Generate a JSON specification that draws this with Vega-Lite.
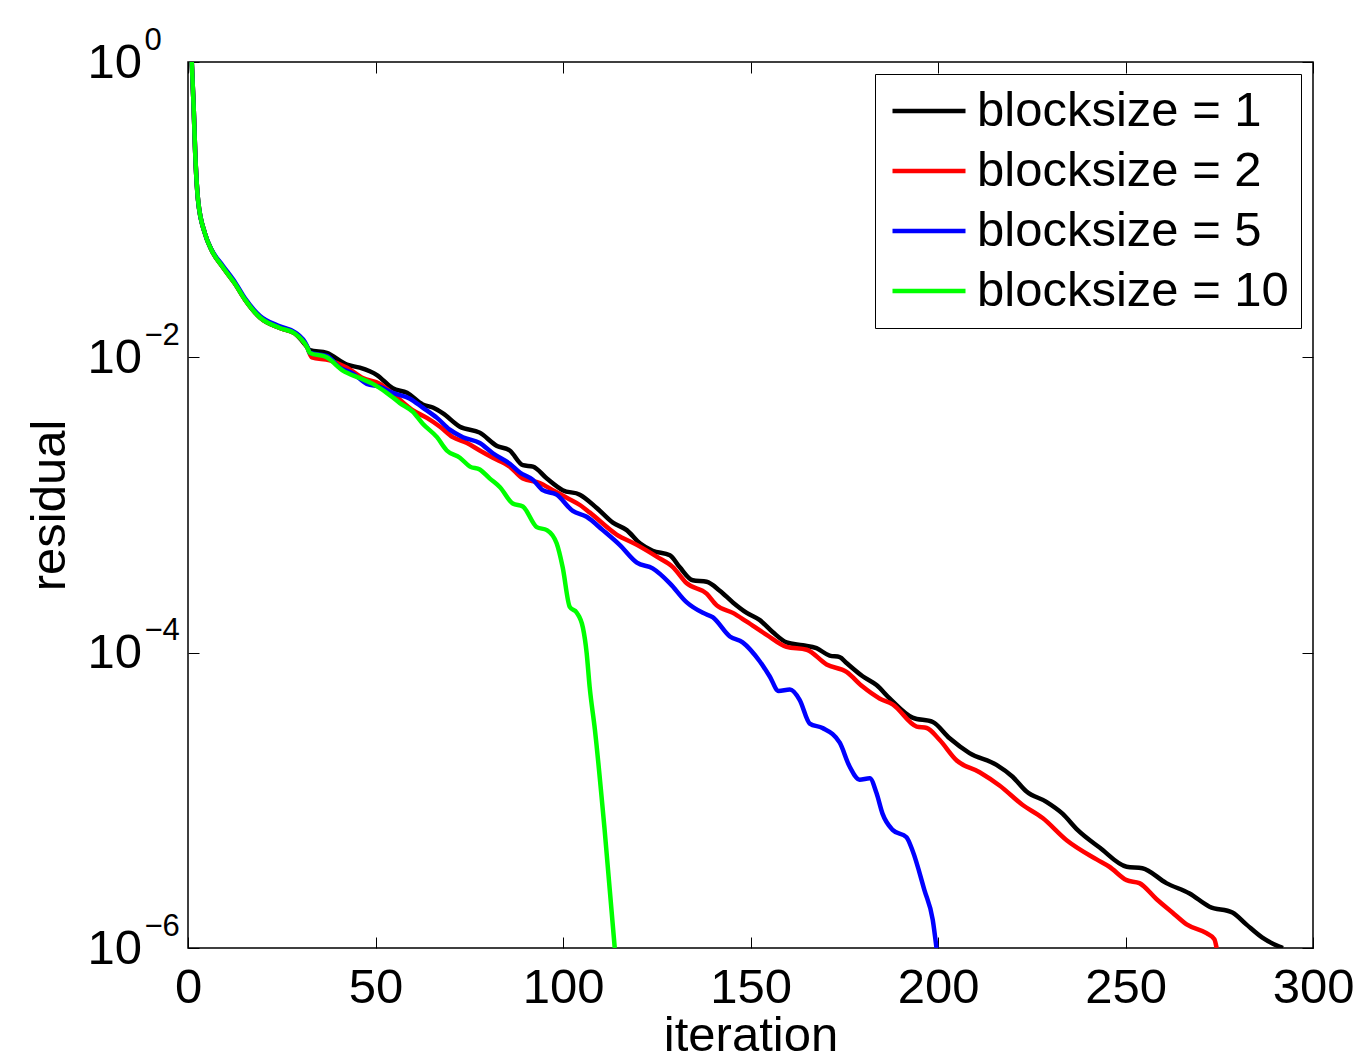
{
  "$schema": "https://vega.github.io/schema/vega-lite/v6.json",
  "width": 1125,
  "height": 886,
  "autosize": "none",
  "padding": {"left": 188, "top": 62, "right": 50, "bottom": 109},
  "background": "white",
  "config": {
    "font": "Liberation Sans",
    "view": {"stroke": "#000000", "strokeWidth": 1.5},
    "axis": {
      "grid": false,
      "domain": false,
      "tickColor": "#000000",
      "tickWidth": 1,
      "tickSize": -11,
      "labelColor": "#000000",
      "labelFont": "Liberation Sans",
      "labelFontSize": 49,
      "titleFont": "Liberation Sans",
      "titleFontSize": 49,
      "titleFontWeight": "normal",
      "titleColor": "#000000"
    },
    "legend": {
      "labelFont": "Liberation Sans",
      "labelFontSize": 49,
      "labelColor": "#000000"
    }
  },
  "data": {
    "values": [
      {"series": "blocksize = 1", "iteration": 1, "residual": 1},
      {"series": "blocksize = 1", "iteration": 1.5, "residual": 0.501},
      {"series": "blocksize = 1", "iteration": 1.9, "residual": 0.251},
      {"series": "blocksize = 1", "iteration": 2.7, "residual": 0.115},
      {"series": "blocksize = 1", "iteration": 4.5, "residual": 0.0692},
      {"series": "blocksize = 1", "iteration": 6.3, "residual": 0.0531},
      {"series": "blocksize = 1", "iteration": 9.3, "residual": 0.0407},
      {"series": "blocksize = 1", "iteration": 12.5, "residual": 0.0316},
      {"series": "blocksize = 1", "iteration": 15.2, "residual": 0.0246},
      {"series": "blocksize = 1", "iteration": 19.2, "residual": 0.0186},
      {"series": "blocksize = 1", "iteration": 24.5, "residual": 0.0158},
      {"series": "blocksize = 1", "iteration": 28.5, "residual": 0.0145},
      {"series": "blocksize = 1", "iteration": 31.7, "residual": 0.0118},
      {"series": "blocksize = 1", "iteration": 32.5, "residual": 0.0112},
      {"series": "blocksize = 1", "iteration": 37, "residual": 0.01072},
      {"series": "blocksize = 1", "iteration": 42.4, "residual": 8.91e-3},
      {"series": "blocksize = 1", "iteration": 45.8, "residual": 8.51e-3},
      {"series": "blocksize = 1", "iteration": 50.4, "residual": 7.59e-3},
      {"series": "blocksize = 1", "iteration": 54.6, "residual": 6.17e-3},
      {"series": "blocksize = 1", "iteration": 58.4, "residual": 5.75e-3},
      {"series": "blocksize = 1", "iteration": 62.6, "residual": 4.79e-3},
      {"series": "blocksize = 1", "iteration": 65.3, "residual": 4.57e-3},
      {"series": "blocksize = 1", "iteration": 68, "residual": 4.17e-3},
      {"series": "blocksize = 1", "iteration": 72.5, "residual": 3.39e-3},
      {"series": "blocksize = 1", "iteration": 77.8, "residual": 3.09e-3},
      {"series": "blocksize = 1", "iteration": 82.4, "residual": 2.51e-3},
      {"series": "blocksize = 1", "iteration": 85.8, "residual": 2.34e-3},
      {"series": "blocksize = 1", "iteration": 89.3, "residual": 1.86e-3},
      {"series": "blocksize = 1", "iteration": 92, "residual": 1.82e-3},
      {"series": "blocksize = 1", "iteration": 95.7, "residual": 1.51e-3},
      {"series": "blocksize = 1", "iteration": 99.9, "residual": 1.26e-3},
      {"series": "blocksize = 1", "iteration": 104.5, "residual": 1.175e-3},
      {"series": "blocksize = 1", "iteration": 109, "residual": 9.55e-4},
      {"series": "blocksize = 1", "iteration": 113.3, "residual": 7.59e-4},
      {"series": "blocksize = 1", "iteration": 117, "residual": 6.76e-4},
      {"series": "blocksize = 1", "iteration": 120.5, "residual": 5.5e-4},
      {"series": "blocksize = 1", "iteration": 123.9, "residual": 4.9e-4},
      {"series": "blocksize = 1", "iteration": 128.5, "residual": 4.57e-4},
      {"series": "blocksize = 1", "iteration": 131.1, "residual": 3.8e-4},
      {"series": "blocksize = 1", "iteration": 134.6, "residual": 3.09e-4},
      {"series": "blocksize = 1", "iteration": 138.3, "residual": 3.02e-4},
      {"series": "blocksize = 1", "iteration": 141.8, "residual": 2.63e-4},
      {"series": "blocksize = 1", "iteration": 145.3, "residual": 2.19e-4},
      {"series": "blocksize = 1", "iteration": 149, "residual": 1.86e-4},
      {"series": "blocksize = 1", "iteration": 152.5, "residual": 1.66e-4},
      {"series": "blocksize = 1", "iteration": 155.9, "residual": 1.38e-4},
      {"series": "blocksize = 1", "iteration": 159.6, "residual": 1.175e-4},
      {"series": "blocksize = 1", "iteration": 163.9, "residual": 1.122e-4},
      {"series": "blocksize = 1", "iteration": 167.6, "residual": 1.072e-4},
      {"series": "blocksize = 1", "iteration": 171.1, "residual": 9.55e-5},
      {"series": "blocksize = 1", "iteration": 173.8, "residual": 9.33e-5},
      {"series": "blocksize = 1", "iteration": 175.6, "residual": 8.51e-5},
      {"series": "blocksize = 1", "iteration": 179.9, "residual": 6.92e-5},
      {"series": "blocksize = 1", "iteration": 183.6, "residual": 6.03e-5},
      {"series": "blocksize = 1", "iteration": 187.1, "residual": 4.9e-5},
      {"series": "blocksize = 1", "iteration": 193.2, "residual": 3.63e-5},
      {"series": "blocksize = 1", "iteration": 198.6, "residual": 3.39e-5},
      {"series": "blocksize = 1", "iteration": 203.1, "residual": 2.63e-5},
      {"series": "blocksize = 1", "iteration": 208.4, "residual": 2.09e-5},
      {"series": "blocksize = 1", "iteration": 215.6, "residual": 1.74e-5},
      {"series": "blocksize = 1", "iteration": 219.9, "residual": 1.445e-5},
      {"series": "blocksize = 1", "iteration": 223.6, "residual": 1.148e-5},
      {"series": "blocksize = 1", "iteration": 228.9, "residual": 9.77e-6},
      {"series": "blocksize = 1", "iteration": 233.2, "residual": 8.13e-6},
      {"series": "blocksize = 1", "iteration": 237.2, "residual": 6.31e-6},
      {"series": "blocksize = 1", "iteration": 243.1, "residual": 4.79e-6},
      {"series": "blocksize = 1", "iteration": 250.3, "residual": 3.55e-6},
      {"series": "blocksize = 1", "iteration": 254.5, "residual": 3.47e-6},
      {"series": "blocksize = 1", "iteration": 260.9, "residual": 2.75e-6},
      {"series": "blocksize = 1", "iteration": 267.1, "residual": 2.34e-6},
      {"series": "blocksize = 1", "iteration": 272.4, "residual": 1.905e-6},
      {"series": "blocksize = 1", "iteration": 278.5, "residual": 1.74e-6},
      {"series": "blocksize = 1", "iteration": 282.2, "residual": 1.445e-6},
      {"series": "blocksize = 1", "iteration": 286.5, "residual": 1.175e-6},
      {"series": "blocksize = 1", "iteration": 291, "residual": 1.023e-6},
      {"series": "blocksize = 1", "iteration": 292, "residual": 1e-6},

      {"series": "blocksize = 2", "iteration": 1, "residual": 1},
      {"series": "blocksize = 2", "iteration": 1.5, "residual": 0.501},
      {"series": "blocksize = 2", "iteration": 1.9, "residual": 0.251},
      {"series": "blocksize = 2", "iteration": 2.7, "residual": 0.115},
      {"series": "blocksize = 2", "iteration": 4.5, "residual": 0.0692},
      {"series": "blocksize = 2", "iteration": 6.3, "residual": 0.0531},
      {"series": "blocksize = 2", "iteration": 9.3, "residual": 0.0407},
      {"series": "blocksize = 2", "iteration": 12.5, "residual": 0.0316},
      {"series": "blocksize = 2", "iteration": 15.2, "residual": 0.0246},
      {"series": "blocksize = 2", "iteration": 19.2, "residual": 0.0186},
      {"series": "blocksize = 2", "iteration": 24.5, "residual": 0.0158},
      {"series": "blocksize = 2", "iteration": 28.5, "residual": 0.0145},
      {"series": "blocksize = 2", "iteration": 31.7, "residual": 0.0118},
      {"series": "blocksize = 2", "iteration": 33, "residual": 0.01},
      {"series": "blocksize = 2", "iteration": 37.8, "residual": 9.55e-3},
      {"series": "blocksize = 2", "iteration": 42.4, "residual": 8.51e-3},
      {"series": "blocksize = 2", "iteration": 46.6, "residual": 7.24e-3},
      {"series": "blocksize = 2", "iteration": 51.2, "residual": 6.61e-3},
      {"series": "blocksize = 2", "iteration": 55.7, "residual": 5.37e-3},
      {"series": "blocksize = 2", "iteration": 60, "residual": 4.37e-3},
      {"series": "blocksize = 2", "iteration": 63.7, "residual": 3.89e-3},
      {"series": "blocksize = 2", "iteration": 67.2, "residual": 3.39e-3},
      {"series": "blocksize = 2", "iteration": 70.6, "residual": 2.88e-3},
      {"series": "blocksize = 2", "iteration": 74.4, "residual": 2.63e-3},
      {"series": "blocksize = 2", "iteration": 77.8, "residual": 2.34e-3},
      {"series": "blocksize = 2", "iteration": 81.3, "residual": 2.09e-3},
      {"series": "blocksize = 2", "iteration": 85.8, "residual": 1.82e-3},
      {"series": "blocksize = 2", "iteration": 89.3, "residual": 1.51e-3},
      {"series": "blocksize = 2", "iteration": 93.8, "residual": 1.41e-3},
      {"series": "blocksize = 2", "iteration": 97.3, "residual": 1.26e-3},
      {"series": "blocksize = 2", "iteration": 101, "residual": 1.12e-3},
      {"series": "blocksize = 2", "iteration": 104.5, "residual": 1.0e-3},
      {"series": "blocksize = 2", "iteration": 107.1, "residual": 8.91e-4},
      {"series": "blocksize = 2", "iteration": 114.3, "residual": 6.31e-4},
      {"series": "blocksize = 2", "iteration": 119.7, "residual": 5.37e-4},
      {"series": "blocksize = 2", "iteration": 125, "residual": 4.47e-4},
      {"series": "blocksize = 2", "iteration": 129.3, "residual": 3.8e-4},
      {"series": "blocksize = 2", "iteration": 133, "residual": 2.95e-4},
      {"series": "blocksize = 2", "iteration": 138.3, "residual": 2.51e-4},
      {"series": "blocksize = 2", "iteration": 141, "residual": 2.09e-4},
      {"series": "blocksize = 2", "iteration": 145.3, "residual": 1.86e-4},
      {"series": "blocksize = 2", "iteration": 149, "residual": 1.62e-4},
      {"series": "blocksize = 2", "iteration": 154.3, "residual": 1.32e-4},
      {"series": "blocksize = 2", "iteration": 159.6, "residual": 1.096e-4},
      {"series": "blocksize = 2", "iteration": 165, "residual": 1.047e-4},
      {"series": "blocksize = 2", "iteration": 170.3, "residual": 8.32e-5},
      {"series": "blocksize = 2", "iteration": 175.6, "residual": 7.41e-5},
      {"series": "blocksize = 2", "iteration": 179.9, "residual": 5.89e-5},
      {"series": "blocksize = 2", "iteration": 184.4, "residual": 4.9e-5},
      {"series": "blocksize = 2", "iteration": 187.9, "residual": 4.47e-5},
      {"series": "blocksize = 2", "iteration": 194.3, "residual": 3.16e-5},
      {"series": "blocksize = 2", "iteration": 197, "residual": 3.09e-5},
      {"series": "blocksize = 2", "iteration": 200.4, "residual": 2.57e-5},
      {"series": "blocksize = 2", "iteration": 205, "residual": 1.86e-5},
      {"series": "blocksize = 2", "iteration": 211.1, "residual": 1.55e-5},
      {"series": "blocksize = 2", "iteration": 216.4, "residual": 1.26e-5},
      {"series": "blocksize = 2", "iteration": 222.5, "residual": 9.33e-6},
      {"series": "blocksize = 2", "iteration": 227.9, "residual": 7.59e-6},
      {"series": "blocksize = 2", "iteration": 234.3, "residual": 5.37e-6},
      {"series": "blocksize = 2", "iteration": 242.3, "residual": 3.98e-6},
      {"series": "blocksize = 2", "iteration": 245.7, "residual": 3.55e-6},
      {"series": "blocksize = 2", "iteration": 250.3, "residual": 2.88e-6},
      {"series": "blocksize = 2", "iteration": 253.7, "residual": 2.75e-6},
      {"series": "blocksize = 2", "iteration": 258.3, "residual": 2.14e-6},
      {"series": "blocksize = 2", "iteration": 262.5, "residual": 1.74e-6},
      {"series": "blocksize = 2", "iteration": 266.3, "residual": 1.445e-6},
      {"series": "blocksize = 2", "iteration": 271.6, "residual": 1.26e-6},
      {"series": "blocksize = 2", "iteration": 273.7, "residual": 1.148e-6},
      {"series": "blocksize = 2", "iteration": 274.3, "residual": 1e-6},

      {"series": "blocksize = 5", "iteration": 1, "residual": 1},
      {"series": "blocksize = 5", "iteration": 1.5, "residual": 0.501},
      {"series": "blocksize = 5", "iteration": 1.9, "residual": 0.251},
      {"series": "blocksize = 5", "iteration": 2.7, "residual": 0.115},
      {"series": "blocksize = 5", "iteration": 4.5, "residual": 0.0692},
      {"series": "blocksize = 5", "iteration": 6.3, "residual": 0.0535},
      {"series": "blocksize = 5", "iteration": 9.3, "residual": 0.0417},
      {"series": "blocksize = 5", "iteration": 12.5, "residual": 0.0324},
      {"series": "blocksize = 5", "iteration": 15.2, "residual": 0.0251},
      {"series": "blocksize = 5", "iteration": 19.2, "residual": 0.0191},
      {"series": "blocksize = 5", "iteration": 24.5, "residual": 0.0162},
      {"series": "blocksize = 5", "iteration": 28.5, "residual": 0.0148},
      {"series": "blocksize = 5", "iteration": 31.7, "residual": 0.012},
      {"series": "blocksize = 5", "iteration": 32.5, "residual": 0.01072},
      {"series": "blocksize = 5", "iteration": 37, "residual": 0.01023},
      {"series": "blocksize = 5", "iteration": 40.5, "residual": 8.51e-3},
      {"series": "blocksize = 5", "iteration": 44, "residual": 7.76e-3},
      {"series": "blocksize = 5", "iteration": 47.7, "residual": 6.61e-3},
      {"series": "blocksize = 5", "iteration": 51.2, "residual": 6.31e-3},
      {"series": "blocksize = 5", "iteration": 54.6, "residual": 5.75e-3},
      {"series": "blocksize = 5", "iteration": 59.2, "residual": 5.25e-3},
      {"series": "blocksize = 5", "iteration": 62.6, "residual": 4.57e-3},
      {"series": "blocksize = 5", "iteration": 66.4, "residual": 3.89e-3},
      {"series": "blocksize = 5", "iteration": 69.8, "residual": 3.24e-3},
      {"series": "blocksize = 5", "iteration": 73.3, "residual": 2.88e-3},
      {"series": "blocksize = 5", "iteration": 77.8, "residual": 2.63e-3},
      {"series": "blocksize = 5", "iteration": 81.3, "residual": 2.24e-3},
      {"series": "blocksize = 5", "iteration": 85.8, "residual": 1.905e-3},
      {"series": "blocksize = 5", "iteration": 88.5, "residual": 1.66e-3},
      {"series": "blocksize = 5", "iteration": 92, "residual": 1.48e-3},
      {"series": "blocksize = 5", "iteration": 94.6, "residual": 1.26e-3},
      {"series": "blocksize = 5", "iteration": 98.3, "residual": 1.175e-3},
      {"series": "blocksize = 5", "iteration": 102.6, "residual": 9.12e-4},
      {"series": "blocksize = 5", "iteration": 106.3, "residual": 8.32e-4},
      {"series": "blocksize = 5", "iteration": 110.6, "residual": 6.76e-4},
      {"series": "blocksize = 5", "iteration": 115.1, "residual": 5.37e-4},
      {"series": "blocksize = 5", "iteration": 119.7, "residual": 4.07e-4},
      {"series": "blocksize = 5", "iteration": 123.9, "residual": 3.72e-4},
      {"series": "blocksize = 5", "iteration": 128.5, "residual": 2.95e-4},
      {"series": "blocksize = 5", "iteration": 133, "residual": 2.19e-4},
      {"series": "blocksize = 5", "iteration": 137.3, "residual": 1.86e-4},
      {"series": "blocksize = 5", "iteration": 139.9, "residual": 1.74e-4},
      {"series": "blocksize = 5", "iteration": 144.5, "residual": 1.288e-4},
      {"series": "blocksize = 5", "iteration": 147.9, "residual": 1.175e-4},
      {"series": "blocksize = 5", "iteration": 152.5, "residual": 8.71e-5},
      {"series": "blocksize = 5", "iteration": 155.1, "residual": 6.92e-5},
      {"series": "blocksize = 5", "iteration": 157.5, "residual": 5.5e-5},
      {"series": "blocksize = 5", "iteration": 160.5, "residual": 5.62e-5},
      {"series": "blocksize = 5", "iteration": 163.1, "residual": 4.79e-5},
      {"series": "blocksize = 5", "iteration": 165.8, "residual": 3.31e-5},
      {"series": "blocksize = 5", "iteration": 169.2, "residual": 3.09e-5},
      {"series": "blocksize = 5", "iteration": 173.8, "residual": 2.455e-5},
      {"series": "blocksize = 5", "iteration": 176.4, "residual": 1.7e-5},
      {"series": "blocksize = 5", "iteration": 179.1, "residual": 1.38e-5},
      {"series": "blocksize = 5", "iteration": 181.8, "residual": 1.41e-5},
      {"series": "blocksize = 5", "iteration": 183.6, "residual": 1.12e-5},
      {"series": "blocksize = 5", "iteration": 185.2, "residual": 8.13e-6},
      {"series": "blocksize = 5", "iteration": 187.9, "residual": 6.31e-6},
      {"series": "blocksize = 5", "iteration": 191.6, "residual": 5.62e-6},
      {"series": "blocksize = 5", "iteration": 193.2, "residual": 4.57e-6},
      {"series": "blocksize = 5", "iteration": 196.4, "residual": 2.455e-6},
      {"series": "blocksize = 5", "iteration": 198.6, "residual": 1.55e-6},
      {"series": "blocksize = 5", "iteration": 199.6, "residual": 1e-6},

      {"series": "blocksize = 10", "iteration": 1, "residual": 1},
      {"series": "blocksize = 10", "iteration": 1.5, "residual": 0.501},
      {"series": "blocksize = 10", "iteration": 1.9, "residual": 0.251},
      {"series": "blocksize = 10", "iteration": 2.7, "residual": 0.115},
      {"series": "blocksize = 10", "iteration": 4.5, "residual": 0.0692},
      {"series": "blocksize = 10", "iteration": 6.3, "residual": 0.0531},
      {"series": "blocksize = 10", "iteration": 9.3, "residual": 0.0407},
      {"series": "blocksize = 10", "iteration": 12.5, "residual": 0.0316},
      {"series": "blocksize = 10", "iteration": 15.2, "residual": 0.0246},
      {"series": "blocksize = 10", "iteration": 19.2, "residual": 0.0186},
      {"series": "blocksize = 10", "iteration": 24.5, "residual": 0.0158},
      {"series": "blocksize = 10", "iteration": 28.5, "residual": 0.0145},
      {"series": "blocksize = 10", "iteration": 31.7, "residual": 0.0118},
      {"series": "blocksize = 10", "iteration": 32.5, "residual": 0.01072},
      {"series": "blocksize = 10", "iteration": 37, "residual": 0.01},
      {"series": "blocksize = 10", "iteration": 41.3, "residual": 8.13e-3},
      {"series": "blocksize = 10", "iteration": 45.8, "residual": 7.24e-3},
      {"series": "blocksize = 10", "iteration": 49.3, "residual": 6.61e-3},
      {"series": "blocksize = 10", "iteration": 53, "residual": 5.75e-3},
      {"series": "blocksize = 10", "iteration": 56.5, "residual": 4.9e-3},
      {"series": "blocksize = 10", "iteration": 60, "residual": 4.27e-3},
      {"series": "blocksize = 10", "iteration": 62.6, "residual": 3.55e-3},
      {"series": "blocksize = 10", "iteration": 66.4, "residual": 2.88e-3},
      {"series": "blocksize = 10", "iteration": 69, "residual": 2.34e-3},
      {"series": "blocksize = 10", "iteration": 72.5, "residual": 2.09e-3},
      {"series": "blocksize = 10", "iteration": 75.2, "residual": 1.82e-3},
      {"series": "blocksize = 10", "iteration": 77.8, "residual": 1.74e-3},
      {"series": "blocksize = 10", "iteration": 80.5, "residual": 1.51e-3},
      {"series": "blocksize = 10", "iteration": 83.2, "residual": 1.318e-3},
      {"series": "blocksize = 10", "iteration": 86.6, "residual": 1.023e-3},
      {"series": "blocksize = 10", "iteration": 89.3, "residual": 9.77e-4},
      {"series": "blocksize = 10", "iteration": 93, "residual": 7.08e-4},
      {"series": "blocksize = 10", "iteration": 95.7, "residual": 6.76e-4},
      {"series": "blocksize = 10", "iteration": 98.3, "residual": 5.5e-4},
      {"series": "blocksize = 10", "iteration": 99.9, "residual": 3.8e-4},
      {"series": "blocksize = 10", "iteration": 101.8, "residual": 2.04e-4},
      {"series": "blocksize = 10", "iteration": 103.7, "residual": 1.86e-4},
      {"series": "blocksize = 10", "iteration": 105.3, "residual": 1.48e-4},
      {"series": "blocksize = 10", "iteration": 106.3, "residual": 1.0e-4},
      {"series": "blocksize = 10", "iteration": 107.1, "residual": 5.89e-5},
      {"series": "blocksize = 10", "iteration": 108.5, "residual": 3.02e-5},
      {"series": "blocksize = 10", "iteration": 111.1, "residual": 6.31e-6},
      {"series": "blocksize = 10", "iteration": 113.8, "residual": 1e-6}
    ]
  },
  "resolve": {"axis": {"x": "independent", "y": "independent"}},
  "layer": [
    {
      "mark": {"type": "line", "strokeWidth": 4.5, "strokeJoin": "round", "strokeCap": "butt", "clip": true, "interpolate": "monotone"},
      "encoding": {
        "x": {
          "field": "iteration", "type": "quantitative",
          "scale": {"domain": [0, 300], "nice": false, "zero": false},
          "axis": {"orient": "bottom", "values": [0, 50, 100, 150, 200, 250, 300], "title": "iteration", "labelPadding": 26, "titlePadding": -1, "labelFlush": false}
        },
        "y": {
          "field": "residual", "type": "quantitative",
          "scale": {"type": "log", "domain": [1e-6, 1], "nice": false},
          "axis": {"orient": "left", "values": [1e-6, 1e-4, 1e-2, 1], "title": "residual", "labelPadding": 112, "labelAlign": "left", "titlePadding": 13,
                   "labelExpr": "'10'"}
        },
        "color": {
          "field": "series", "type": "nominal",
          "scale": {"domain": ["blocksize = 1", "blocksize = 2", "blocksize = 5", "blocksize = 10"], "range": ["#000000", "#ff0000", "#0000ff", "#00ff00"]},
          "legend": {
            "title": null, "orient": "top-right", "offset": 12,
            "fillColor": "#ffffff", "strokeColor": "#000000", "padding": 12,
            "symbolType": "M-0.867,0H2.378", "symbolSize": 2025, "symbolStrokeWidth": 4.5,
            "labelOffset": 40, "rowPadding": 10, "labelLimit": 600
          }
        }
      }
    },
    {
      "mark": {"type": "line", "strokeOpacity": 0},
      "encoding": {
        "x": {
          "field": "iteration", "type": "quantitative",
          "scale": {"domain": [0, 300], "nice": false, "zero": false},
          "axis": {"orient": "top", "values": [0, 50, 100, 150, 200, 250, 300], "labels": false, "title": null}
        },
        "y": {
          "field": "residual", "type": "quantitative",
          "scale": {"type": "log", "domain": [1e-6, 1], "nice": false},
          "axis": {"orient": "right", "values": [1e-6, 1e-4, 1e-2, 1], "labels": false, "title": null}
        },
        "detail": {"field": "series"}
      }
    },
    {
      "mark": {"type": "line", "strokeOpacity": 0},
      "encoding": {
        "x": {
          "field": "iteration", "type": "quantitative",
          "scale": {"domain": [0, 300], "nice": false, "zero": false},
          "axis": null
        },
        "y": {
          "field": "residual", "type": "quantitative",
          "scale": {"type": "log", "domain": [1e-6, 1], "nice": false},
          "axis": {"orient": "left", "values": [1e-6, 1e-4, 1e-2, 1], "title": null, "ticks": false,
                   "labelAlign": "left", "labelPadding": 44, "labelOffset": -22, "labelFontSize": 31,
                   "labelExpr": "datum.value > 0.5 ? '0' : datum.value > 0.005 ? '−2' : datum.value > 0.00005 ? '−4' : '−6'"}
        },
        "detail": {"field": "series"}
      }
    }
  ]
}
